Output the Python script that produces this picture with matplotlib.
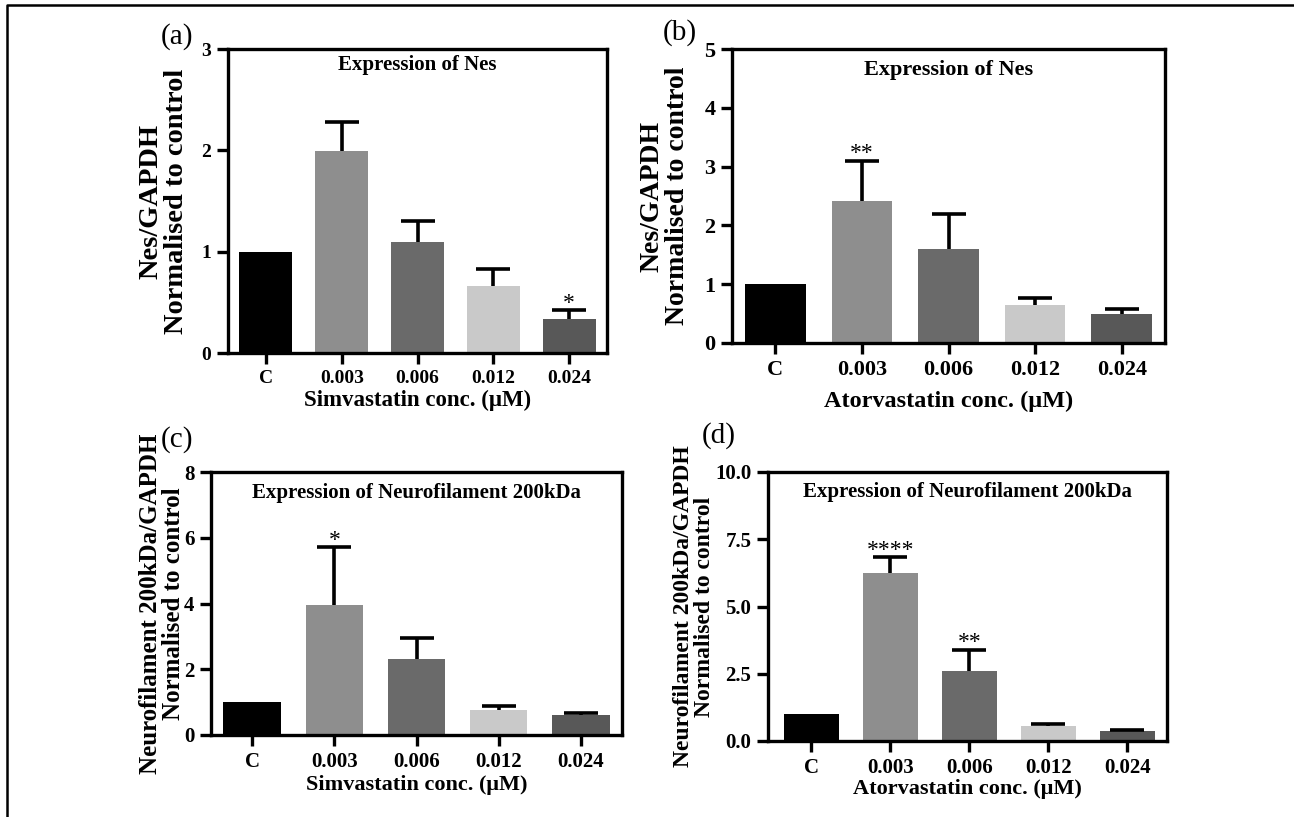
import matplotlib
matplotlib.use('Agg')
import matplotlib.pyplot as plt
import numpy as np
from matplotlib.lines import Line2D

plt.rcParams['font.family'] = ['Liberation Serif', 'DejaVu Serif']
plt.rcParams['font.weight'] = 'bold'
plt.rcParams['axes.labelweight'] = 'bold'

categories = ['C', '0.003', '0.006', '0.012', '0.024']
bar_colors = ['#000000', '#8e8e8e', '#6a6a6a', '#c9c9c9', '#585858']

# Nes / GAPDH, simvastatin and atorvastatin
simva_nes = [1.0, 1.99, 1.10, 0.66, 0.335]
simva_nes_err = [0.0, 0.29, 0.20, 0.17, 0.085]
simva_nes_sig = ['', '', '', '', '*']

atorva_nes = [1.0, 2.41, 1.60, 0.64, 0.50]
atorva_nes_err = [0.0, 0.69, 0.60, 0.12, 0.07]
atorva_nes_sig = ['', '**', '', '', '']

# Neurofilament 200kDa / GAPDH
simva_nf = [1.0, 3.95, 2.32, 0.75, 0.60]
simva_nf_err = [0.0, 1.77, 0.64, 0.13, 0.08]
simva_nf_sig = ['', '*', '', '', '']

atorva_nf = [1.0, 6.24, 2.60, 0.56, 0.36]
atorva_nf_err = [0.0, 0.60, 0.80, 0.07, 0.05]
atorva_nf_sig = ['', '****', '**', '', '']

W, H = 1294, 817


def px_rect(left, top, right, bottom):
    """Pixel box -> figure fraction rect."""
    return [left / W, 1 - bottom / H, (right - left) / W, (bottom - top) / H]


def draw_panel(ax, values, errors, sig, ylim, yticks, yticklabels,
               title, title_y, xlabel, xlabel_y, ylabel, ylabel_x,
               xlim=(-0.5, 4.5), ticksize=15, titlesize=15,
               xlabelsize=16, ylabelsize=20):
    x = np.arange(len(categories))
    values = np.asarray(values)
    errors = np.asarray(errors)

    ax.bar(x, values, width=0.7, color=bar_colors, zorder=2)

    # Upper error bars only
    has_err = errors > 0
    _, caps, _ = ax.errorbar(x[has_err], values[has_err],
                             yerr=[np.zeros(has_err.sum()), errors[has_err]],
                             fmt='none', ecolor='black', elinewidth=2.6,
                             capsize=12.5, capthick=2.6, zorder=3)
    caps[0].set_visible(False)

    for xi, v, e, s in zip(x, values, errors, sig):
        if s:
            ax.annotate(s, xy=(xi, v + e), xytext=(0, 1),
                        textcoords='offset points', ha='center',
                        va='baseline', fontsize=17, fontweight='normal')

    ax.set_xlim(*xlim)
    ax.set_ylim(*ylim)
    ax.set_xticks(x)
    ax.set_xticklabels(categories)
    ax.set_yticks(yticks)
    ax.set_yticklabels(yticklabels)
    ax.tick_params(axis='both', direction='out', length=8, width=2.4,
                   labelsize=ticksize, pad=4)
    for sp in ax.spines.values():
        sp.set_linewidth(2.4)

    ax.text(0.5, title_y, title, transform=ax.transAxes, ha='center',
            va='center', fontsize=titlesize, fontweight='bold')

    ax.set_xlabel(xlabel, fontsize=xlabelsize, va='center')
    ax.xaxis.set_label_coords(0.5, xlabel_y)
    ax.set_ylabel(ylabel, fontsize=ylabelsize, va='center', linespacing=1.0)
    ax.yaxis.set_label_coords(ylabel_x, 0.5)


fig = plt.figure(figsize=(W / 100, H / 100), dpi=100)

ax_a = fig.add_axes(px_rect(228, 49, 607, 353))
ax_b = fig.add_axes(px_rect(732, 49, 1165, 343))
ax_c = fig.add_axes(px_rect(211, 472, 622, 735))
ax_d = fig.add_axes(px_rect(768, 472, 1167, 741))

nes_label = 'Nes/GAPDH\nNormalised to control'
nf_label = 'Neurofilament 200kDa/GAPDH\nNormalised to control'

draw_panel(ax_a, simva_nes, simva_nes_err, simva_nes_sig,
           (0, 3), [0, 1, 2, 3], ['0', '1', '2', '3'],
           'Expression of Nes', 0.947,
           'Simvastatin conc. (\u03bcM)', -0.157,
           nes_label, -0.169, ticksize=14, xlabelsize=16.5, ylabelsize=20.5)

draw_panel(ax_b, atorva_nes, atorva_nes_err, atorva_nes_sig,
           (0, 5), [0, 1, 2, 3, 4, 5], ['0', '1', '2', '3', '4', '5'],
           'Expression of Nes', 0.929,
           'Atorvastatin conc. (\u03bcM)', -0.198,
           nes_label, -0.155, ticksize=16, titlesize=16,
           xlabelsize=17.5, ylabelsize=20)

draw_panel(ax_c, simva_nf, simva_nf_err, simva_nf_sig,
           (0, 8), [0, 2, 4, 6, 8], ['0', '2', '4', '6', '8'],
           'Expression of Neurofilament 200kDa', 0.92,
           'Simvastatin conc. (\u03bcM)', -0.19,
           nf_label, -0.119, xlabelsize=16, ylabelsize=18)

draw_panel(ax_d, atorva_nf, atorva_nf_err, atorva_nf_sig,
           (0, 10), [0, 2.5, 5, 7.5, 10],
           ['0.0', '2.5', '5.0', '7.5', '10.0'],
           'Expression of Neurofilament 200kDa', 0.926,
           'Atorvastatin conc. (\u03bcM)', -0.178,
           nf_label, -0.185, xlim=(-0.55, 4.5), xlabelsize=16, ylabelsize=17)

# Panel letters
for letter, (px, py) in zip(['(a)', '(b)', '(c)', '(d)'],
                            [(177, 37), (680, 33), (177, 440), (719, 436)]):
    fig.text(px / W, 1 - py / H, letter, ha='center', va='center',
             fontsize=21, fontweight='normal')

# Outer frame (open to the right and bottom)
fig.add_artist(Line2D([7 / W, 7 / W, 1.0], [0.0, 1 - 5 / H, 1 - 5 / H],
                      transform=fig.transFigure, color='black', lw=1.8))

fig.savefig('out.png', dpi=100)
